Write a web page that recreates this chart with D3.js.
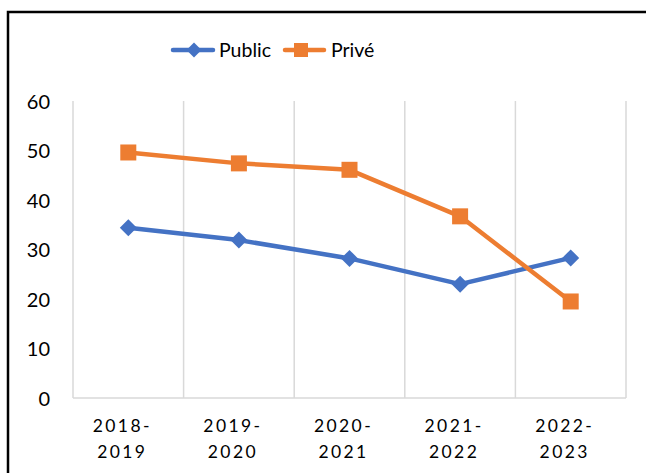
<!DOCTYPE html>
<html><head><meta charset="utf-8">
<script src="https://cdn.jsdelivr.net/npm/d3@7"></script>
<style>body{margin:0;background:#fff}svg{display:block}</style>
</head><body>
<script>
const categories = [["2018-","2019"],["2019-","2020"],["2020-","2021"],["2021-","2022"],["2022-","2023"]];
const publicValues = [34.4, 31.9, 28.2, 23.0, 28.3];
const priveValues = [49.6, 47.4, 46.1, 36.7, 19.5];
const yTicks = [0,10,20,30,40,50,60];
const seriesNames = ["Public","Privé"];

const W=646,H=473;
const svg=d3.select("body").append("svg").attr("width",W).attr("height",H);
const font="Lato, 'Open Sans', sans-serif";
// frame
svg.append("path").attr("d","M8,473 V12 H646").attr("fill","none").attr("stroke","#000").attr("stroke-width",2.5);

const x=d3.scaleBand().domain(d3.range(categories.length)).range([73,626]).padding(0);
const y=d3.scaleLinear().domain([0,60]).range([398,101]);

// vertical gridlines
const bounds=d3.range(categories.length+1).map(i=>73+i*x.bandwidth());
svg.append("g").selectAll("line").data(bounds).join("line")
 .attr("x1",d=>d).attr("x2",d=>d).attr("y1",y(60)).attr("y2",y(0))
 .attr("stroke","#d9d9d9").attr("stroke-width",1.5);
svg.append("line").attr("x1",73).attr("x2",626).attr("y1",y(0)).attr("y2",y(0))
 .attr("stroke","#d9d9d9").attr("stroke-width",1.5);

// y axis labels
const ya=d3.axisLeft(y).tickValues(yTicks).tickSize(0).tickPadding(0);
const gy=svg.append("g").attr("transform","translate(50,0)").call(ya);
gy.select(".domain").remove();
gy.selectAll("text").attr("font-family",font).attr("font-size",20).attr("fill","#000").attr("dy","0.35em");

// x labels
const xl=svg.append("g");
categories.forEach((c,i)=>{
  const cx=x(i)+x.bandwidth()/2-6;
  const t=xl.append("text").attr("y",432)
   .attr("text-anchor","middle").attr("font-family",font).attr("font-size",17.5)
   .attr("letter-spacing","2.4px").attr("fill","#000");
  t.append("tspan").attr("x",cx).attr("dy",0).text(c[0]);
  t.append("tspan").attr("x",cx).attr("dy",26).text(c[1]);
});

const colors=["#4472C4","#ED7D31"];
const data=[publicValues,priveValues];
const line=d3.line().x((d,i)=>x(i)+x.bandwidth()/2).y(d=>y(d));
data.forEach((vals,s)=>{
  svg.append("path").datum(vals).attr("d",line).attr("fill","none")
   .attr("stroke",colors[s]).attr("stroke-width",4.5).attr("stroke-linejoin","round");
});
// markers
const diamond=(cx,cy,r)=>`M${cx},${cy-r}L${cx+r},${cy}L${cx},${cy+r}L${cx-r},${cy}Z`;
svg.append("g").selectAll("path").data(publicValues).join("path")
 .attr("d",(d,i)=>diamond(x(i)+x.bandwidth()/2,y(d),8.5)).attr("fill",colors[0]);
svg.append("g").selectAll("rect").data(priveValues).join("rect")
 .attr("x",(d,i)=>x(i)+x.bandwidth()/2-8).attr("y",d=>y(d)-8)
 .attr("width",16).attr("height",16).attr("fill",colors[1]);

// legend
const lg=svg.append("g");
const ly=50;
lg.append("line").attr("x1",173).attr("x2",213).attr("y1",ly).attr("y2",ly).attr("stroke",colors[0]).attr("stroke-width",4.5).attr("stroke-linecap","round");
lg.append("path").attr("d",diamond(194,ly,7.5)).attr("fill",colors[0]);
lg.append("text").attr("x",219).attr("y",ly).attr("dy","0.35em").attr("font-family",font).attr("font-size",19.5).text(seriesNames[0]);
lg.append("line").attr("x1",285).attr("x2",324).attr("y1",ly).attr("y2",ly).attr("stroke",colors[1]).attr("stroke-width",4.5).attr("stroke-linecap","round");
lg.append("rect").attr("x",301-7).attr("y",ly-7).attr("width",14).attr("height",14).attr("fill",colors[1]);
lg.append("text").attr("x",331).attr("y",ly).attr("dy","0.35em").attr("font-family",font).attr("font-size",19.5).text(seriesNames[1]);
</script>
</body></html>
